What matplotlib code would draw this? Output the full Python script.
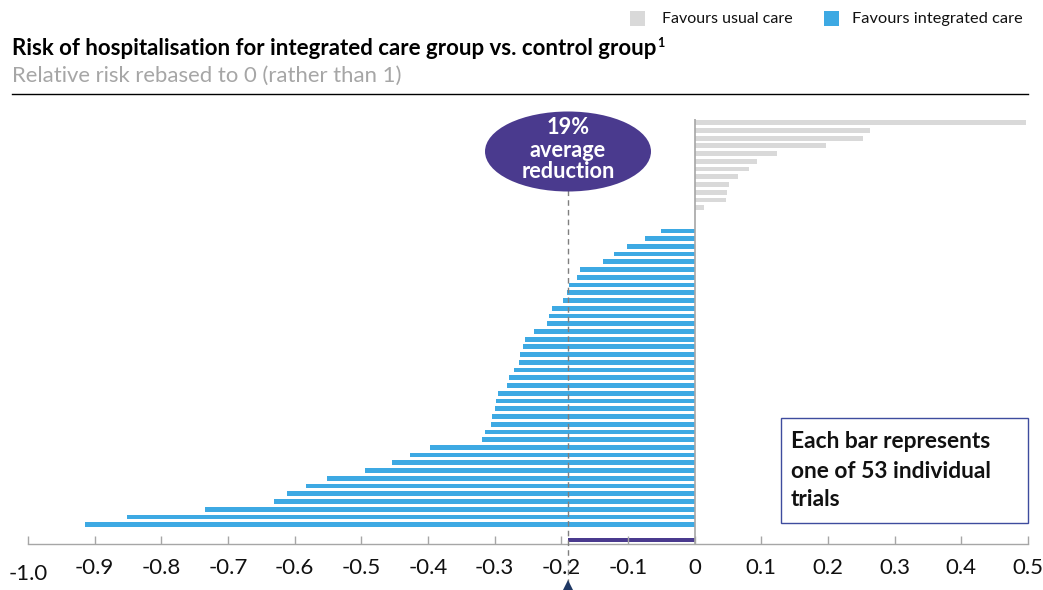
import matplotlib
matplotlib.use("Agg")
import matplotlib.pyplot as plt
from matplotlib.patches import Ellipse, Rectangle
from matplotlib.lines import Line2D
from matplotlib.transforms import ScaledTranslation
import numpy as np

# ---------------- data ----------------
usual_care = [0.497, 0.263, 0.253, 0.197, 0.123, 0.093, 0.081, 0.065, 0.051, 0.049, 0.047, 0.014]
no_change = [0.0, 0.0]
integrated_care = [-0.050, -0.075, -0.102, -0.121, -0.138, -0.172, -0.176, -0.189, -0.192, -0.197,
                   -0.214, -0.218, -0.222, -0.241, -0.254, -0.258, -0.262, -0.264, -0.271, -0.278,
                   -0.281, -0.295, -0.298, -0.299, -0.304, -0.306, -0.314, -0.319, -0.397, -0.427,
                   -0.454, -0.494, -0.551, -0.583, -0.612, -0.631, -0.734, -0.851, -0.915]
average_reduction = -0.19
x_ticks = [-1.0, -0.9, -0.8, -0.7, -0.6, -0.5, -0.4, -0.3, -0.2, -0.1, 0.0, 0.1, 0.2, 0.3, 0.4, 0.5]
x_tick_labels = ["-1.0", "-0.9", "-0.8", "-0.7", "-0.6", "-0.5", "-0.4", "-0.3", "-0.2", "-0.1",
                 "0", "0.1", "0.2", "0.3", "0.4", "0.5"]
legend_labels = ["Favours usual care", "Favours integrated care"]
title = "Risk of hospitalisation for integrated care group vs. control group"
subtitle = "Relative risk rebased to 0 (rather than 1)"
bubble_lines = ["19%", "average", "reduction"]
box_lines = ["Each bar represents", "one of 53 individual", "trials"]

GRAY = "#D9D9D9"
BLUE = "#3DA9E3"
PURPLE = "#4A3A8E"
NAVY = "#1F3864"
FONT = "Lato"

W, H = 1043, 590
plt.rcParams['font.family'] = [FONT, 'DejaVu Sans']
fig = plt.figure(figsize=(W / 100, H / 100), dpi=100)
renderer = fig.canvas.get_renderer()


def fx(px):
    return px / W


def fy(py):
    return 1 - py / H


def fit(txt, target_px):
    """scale a text's font size so its rendered width matches target_px"""
    for _ in range(3):
        w = txt.get_window_extent(renderer=renderer).width
        if w > 0:
            txt.set_fontsize(txt.get_fontsize() * target_px / w)
    return txt


# ---------------- axes ----------------
ax = fig.add_axes([fx(28), fy(544), fx(1028) - fx(28), fy(118.8) - fy(544)])
values = usual_care + no_change + integrated_care
rows = np.arange(len(values))
colors = [GRAY if v > 0 else BLUE for v in values]
ax.barh(rows, values, height=0.62, color=colors, linewidth=0)
avg_row = len(values) + 1
ax.barh([avg_row], [average_reduction], height=0.55, color=PURPLE, linewidth=0)

ax.set_xlim(-1.0, 0.5)
ax.set_ylim(avg_row + 0.5, -0.5)
for s in ["top", "right", "left"]:
    ax.spines[s].set_visible(False)
ax.spines["bottom"].set_color("#A6A6A6")
ax.spines["bottom"].set_linewidth(1.0)
ax.axvline(0, color="#A6A6A6", lw=1.2, zorder=3)
ax.set_yticks([])
ax.set_xticks(x_ticks)
ax.set_xticklabels(x_tick_labels)
ax.tick_params(axis="x", direction="in", length=6, color="#A6A6A6", width=1,
               labelsize=16, pad=10, labelcolor="#111111")
# first label sits slightly lower in the original
lbl0 = ax.get_xticklabels()[0]
lbl0.set_transform(lbl0.get_transform() + ScaledTranslation(0, -6 / 100, fig.dpi_scale_trans))

row_px = (544 - 118.8) / (avg_row + 1)


def row_at(py):
    return -0.5 + (py - 118.8) / row_px


# dashed average line (extends past the axis down to the arrow)
ax.plot([average_reduction, average_reduction], [row_at(190), row_at(584)], ls=(0, (4, 3)),
        color="#7F7F7F", lw=1, clip_on=False, zorder=4)
ax.plot([average_reduction], [row_at(585.5)], marker="^", markersize=9, color=NAVY,
        clip_on=False, zorder=5, markeredgewidth=0)

# bubble
ell = Ellipse((average_reduction, row_at(151.5)), width=166 / 666.7, height=80 / row_px,
              facecolor=PURPLE, edgecolor="none", zorder=6, clip_on=False)
ax.add_patch(ell)
bt = []
for line, py in zip(bubble_lines, [128, 151, 172]):
    bt.append(ax.text(average_reduction, row_at(py), line, ha="center", va="center", color="white",
                      fontsize=16, fontweight="bold", zorder=7))
fit(bt[2], 93)
for b in bt[:2]:
    b.set_fontsize(bt[2].get_fontsize())

# ---------------- header ----------------
fig.patches.append(Rectangle((fx(630), fy(26)), fx(645) - fx(630), fy(11) - fy(26),
                             transform=fig.transFigure, facecolor=GRAY, edgecolor="none"))
l1 = fig.text(fx(662), fy(19), legend_labels[0], fontsize=11, va="center", ha="left", color="#111111")
fit(l1, 131)
fig.patches.append(Rectangle((fx(824), fy(26)), fx(839) - fx(824), fy(11) - fy(26),
                             transform=fig.transFigure, facecolor=BLUE, edgecolor="none"))
l2 = fig.text(fx(852), fy(19), legend_labels[1], fontsize=11, va="center", ha="left", color="#111111")
fit(l2, 170)

t = fig.text(fx(12), fy(55), title, fontsize=15, fontweight="bold", va="baseline", ha="left",
             color="black")
fit(t, 644)
bb = t.get_window_extent(renderer=renderer)
fig.text((bb.x1 + 1) / W, fy(47), "1", fontsize=9, fontweight="bold", va="baseline", ha="left")
st = fig.text(fx(12), fy(82), subtitle, fontsize=15, va="baseline", ha="left", color="#A6A6A6")
fit(st, 388)
fig.add_artist(Line2D([fx(12), fx(1028)], [fy(94), fy(94)], transform=fig.transFigure,
                      color="black", lw=1))

# ---------------- annotation box ----------------
fig.patches.append(Rectangle((fx(781), fy(523)), fx(1028) - fx(781), fy(418) - fy(523),
                             transform=fig.transFigure, facecolor="white", edgecolor="#3E4C9E",
                             lw=1, zorder=10))
bx = []
for line, py in zip(box_lines, [442, 471, 499]):
    bx.append(fig.text(fx(791), fy(py), line, fontsize=16, fontweight="bold", va="center", ha="left",
                       color="#111111", zorder=11))
fit(bx[0], 199)
for b in bx[1:]:
    b.set_fontsize(bx[0].get_fontsize())

fig.savefig("out.png", dpi=100)
